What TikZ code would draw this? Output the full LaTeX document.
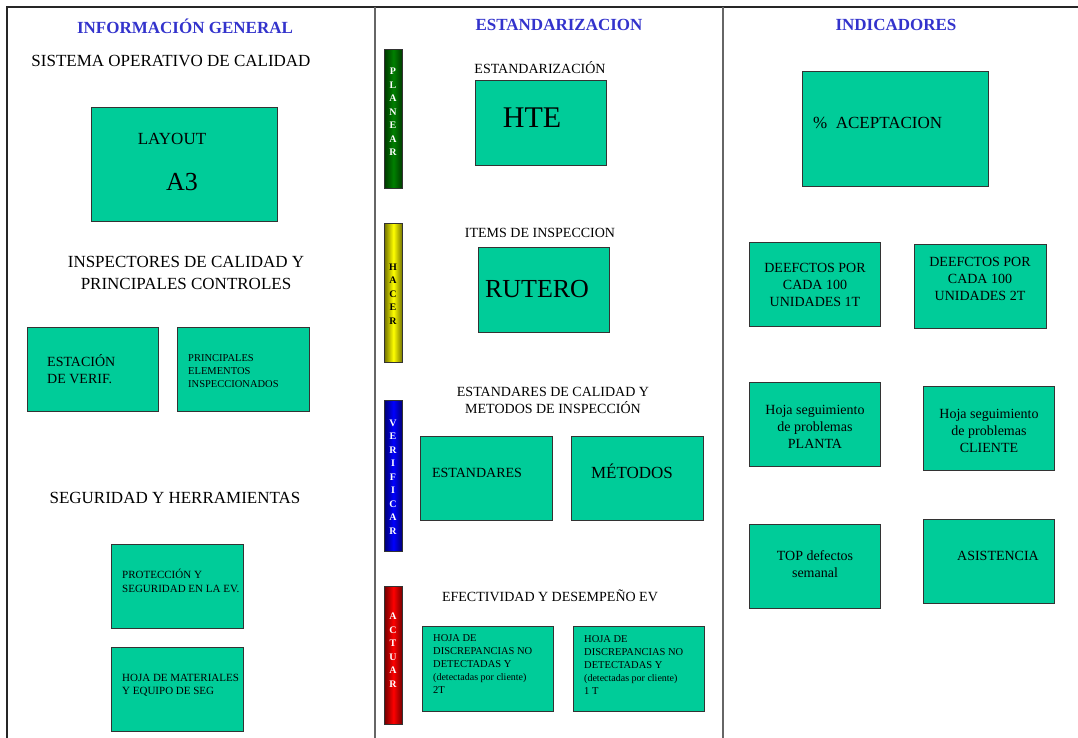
\documentclass[tikz,border=0pt]{standalone}
\usepackage{fontspec}
\setmainfont{Liberation Serif}
\definecolor{verde}{HTML}{00CC99}
\definecolor{azultit}{HTML}{3333CC}
\definecolor{verdeosc}{HTML}{008000}
\definecolor{amarillo}{HTML}{FFFF00}
\definecolor{azulbar}{HTML}{0000FF}
\definecolor{rojobar}{HTML}{FF0000}
\begin{document}
\begin{tikzpicture}[x=1pt,y=-1pt,
caja/.style={draw=black!80,fill=verde,line width=1.2pt,inner sep=0,anchor=north west,minimum width=131,minimum height=84},
titulo/.style={font=\bfseries\fontsize{17}{20}\selectfont,text=azultit},
texto/.style={font=\fontsize{17}{22}\selectfont,align=center},
medio/.style={font=\fontsize{14}{17}\selectfont,align=center},
chico/.style={font=\fontsize{11}{13.5}\selectfont,align=left,anchor=west,inner sep=0},
barra/.style={draw=black!80,line width=0.8pt,inner sep=0,anchor=north west,minimum width=18},
letras/.style={font=\bfseries\fontsize{10}{13.5}\selectfont,align=center,inner sep=0}]
\useasboundingbox (0,0) rectangle (1078,738);
% marco y columnas
\draw[line width=1.6pt,black!85] (7,738) -- (7,7) -- (1078,7);
\draw[line width=1.4pt,black!60] (375,7) -- (375,738) (723,7) -- (723,738);

% informacion general
\node[titulo] (tit1) at (185,26) {INFORMACIÓN GENERAL};
\node[texto] (soc) at (171,61) {SISTEMA OPERATIVO DE CALIDAD};
\node[caja,minimum width=186,minimum height=114] (layout) at (91,107) {};
\node[texto] (layoutT) at (172,139) {LAYOUT};
\node[font=\fontsize{26}{30}\selectfont] (a3) at (182,182) {A3};
\node[texto] (insp) at (186,273) {INSPECTORES DE CALIDAD Y\\PRINCIPALES CONTROLES};
\node[caja] (estac) at (27,327) {};
\node[chico,font=\fontsize{14}{17}\selectfont] (estacT) at (47,369) {ESTACIÓN\\DE VERIF.};
\node[caja,minimum width=132] (princ) at (177,327) {};
\node[chico,font=\fontsize{10.5}{13}\selectfont] (princT) at (188,371) {PRINCIPALES\\ELEMENTOS\\INSPECCIONADOS};
\node[texto] (segu) at (175,498) {SEGURIDAD Y HERRAMIENTAS};
\node[caja,minimum width=132] (protec) at (111,544) {};
\node[chico,font=\fontsize{11}{14}\selectfont] (protecT) at (122,581) {PROTECCIÓN Y\\SEGURIDAD EN LA EV.};
\node[caja,minimum width=132] (hojamat) at (111,647) {};
\node[chico] (hojamatT) at (122,685) {HOJA DE MATERIALES\\Y EQUIPO DE SEG};

% estandarizacion
\node[titulo] (tit2) at (559,25) {ESTANDARIZACION};
\foreach \n/\y/\h/\c/\tc/\ly/\t in {plan/49/139/verdeosc/white/112/{P\\L\\A\\N\\E\\A\\R},
  hacer/223/139/amarillo/black/294/{H\\A\\C\\E\\R},
  verif/400/151/azulbar/white/477/{V\\E\\R\\I\\F\\I\\C\\A\\R},
  actuar/586/138/rojobar/white/650/{A\\C\\T\\U\\A\\R}}
{\node[barra,minimum height=\h,left color=\c!45!black,right color=\c!45!black,middle color=\c] (\n) at (384,\y) {};
\node[letras,text=\tc] (\n T) at (393,\ly) {\t};
}
\node[medio] (estz) at (540,68) {ESTANDARIZACIÓN};
\node[caja,minimum height=85] (hte) at (475,80) {};
\node[font=\fontsize{30}{34}\selectfont] (hteT) at (532,118) {HTE};
\node[medio] (items) at (540,233) {ITEMS DE INSPECCION};
\node[caja,minimum height=85] (rutero) at (478,247) {};
\node[font=\fontsize{26}{30}\selectfont] (ruteroT) at (537,289) {RUTERO};
\node[medio] (estd) at (553,400) {ESTANDARES DE CALIDAD Y\\METODOS DE INSPECCIÓN};
\node[caja,minimum width=132] (estand) at (420,436) {};
\node[medio] (estandT) at (477,473) {ESTANDARES};
\node[caja,minimum width=132] (metod) at (571,436) {};
\node[texto] (metodT) at (632,471) {MÉTODOS};
\node[medio] (efec) at (550,596) {EFECTIVIDAD Y DESEMPEÑO EV};
\node[caja,minimum height=85] (hoja2t) at (422,626) {};
\node[chico,font=\fontsize{10.5}{13}\selectfont] (hoja2tT) at (433,664) {HOJA DE\\DISCREPANCIAS NO\\DETECTADAS Y\\{\fontsize{10}{13}\selectfont(detectadas por cliente)}\\2T};
\node[caja,minimum height=85] (hoja1t) at (573,626) {};
\node[chico,font=\fontsize{10.5}{13}\selectfont] (hoja1tT) at (584,665) {HOJA DE\\DISCREPANCIAS NO\\DETECTADAS Y\\{\fontsize{10}{13}\selectfont(detectadas por cliente)}\\1 T};

% indicadores
\node[titulo] (tit3) at (896,25) {INDICADORES};
\node[caja,minimum width=186,minimum height=115] (acep) at (802,71) {};
\node[chico,font=\fontsize{17}{20}\selectfont] (acepT) at (813,123) {\%\ \ ACEPTACION};
\node[caja] (def1) at (749,242) {};
\node[medio] (def1T) at (815,285) {DEEFCTOS POR\\CADA 100\\UNIDADES 1T};
\node[caja,minimum width=132] (def2) at (914,244) {};
\node[medio] (def2T) at (980,279) {DEEFCTOS POR\\CADA 100\\UNIDADES 2T};
\node[caja] (hplanta) at (749,382) {};
\node[medio] (hplantaT) at (815,427) {Hoja seguimiento\\de problemas\\PLANTA};
\node[caja] (hcliente) at (923,386) {};
\node[medio] (hclienteT) at (989,431) {Hoja seguimiento\\de problemas\\CLIENTE};
\node[caja] (top) at (749,524) {};
\node[medio] (topT) at (815,564) {TOP defectos\\semanal};
\node[caja] (asist) at (923,519) {};
\node[medio] (asistT) at (998,556) {ASISTENCIA};

\end{tikzpicture}
\end{document}
